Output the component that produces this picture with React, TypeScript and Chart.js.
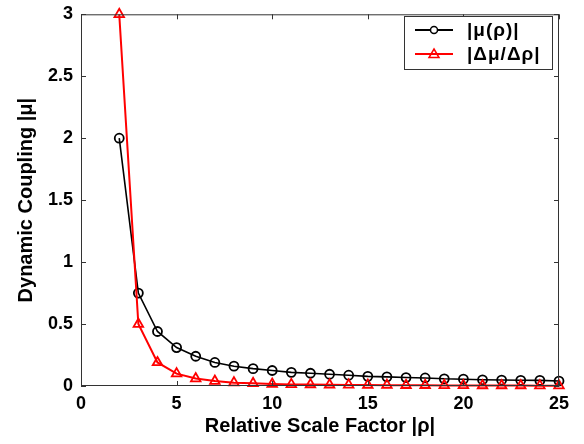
import React, { useEffect, useRef } from "react";
import { Chart, registerables } from "chart.js";

Chart.register(...registerables);

const rho = [2, 3, 4, 5, 6, 7, 8, 9, 10, 11, 12, 13, 14, 15, 16, 17, 18, 19, 20, 21, 22, 23, 24, 25];
const muAbs = [2, 0.75, 0.44, 0.31, 0.24, 0.19, 0.16, 0.14, 0.125, 0.11, 0.103, 0.095, 0.087, 0.078, 0.074, 0.068, 0.065, 0.058, 0.055, 0.05, 0.048, 0.046, 0.045, 0.04];
const dMu = [3, 0.5, 0.19, 0.1, 0.06, 0.04, 0.027, 0.022, 0.016, 0.013, 0.012, 0.01, 0.009, 0.008, 0.007, 0.006, 0.006, 0.005, 0.005, 0.004, 0.004, 0.004, 0.003, 0.003];
const xTicks = [0, 5, 10, 15, 20, 25];
const yTicks = [0, 0.5, 1, 1.5, 2, 2.5, 3];
const legendLabels = ["|\u03bc(\u03c1)|", "|\u0394\u03bc/\u0394\u03c1|"];
const xTitle = "Relative Scale Factor |\u03c1|";
const yTitle = "Dynamic Coupling |\u03bc|";

const FONT = "'Liberation Sans', Arial, sans-serif";

const boxPlugin = {
  id: "boxPlugin",
  afterDraw(chart: any) {
    const { ctx, chartArea: a, scales } = chart;
    ctx.save();
    ctx.strokeStyle = "#333";
    ctx.lineWidth = 1;
    ctx.beginPath();
    ctx.rect(a.left + 0.5, a.top + 0.5, a.right - a.left - 1, a.bottom - a.top - 1);
    ctx.stroke();
    const tl = 5;
    ctx.beginPath();
    xTicks.forEach((v) => {
      const x = Math.round(scales.x.getPixelForValue(v)) + 0.5;
      ctx.moveTo(x, a.bottom);
      ctx.lineTo(x, a.bottom - tl);
      ctx.moveTo(x, a.top);
      ctx.lineTo(x, a.top + tl);
    });
    yTicks.forEach((v) => {
      const y = Math.round(scales.y.getPixelForValue(v)) + 0.5;
      ctx.moveTo(a.left, y);
      ctx.lineTo(a.left + tl, y);
      ctx.moveTo(a.right, y);
      ctx.lineTo(a.right - tl, y);
    });
    ctx.stroke();

    // legend
    const lx = 404, ly = 16, lw = 148, lh = 53;
    ctx.fillStyle = "#fff";
    ctx.fillRect(lx, ly, lw, lh);
    ctx.strokeStyle = "#333";
    ctx.lineWidth = 1;
    ctx.strokeRect(lx + 0.5, ly + 0.5, lw, lh);
    const rows = [
      { y: 30, color: "#000", style: "circle", label: legendLabels[0] },
      { y: 54, color: "#ff0000", style: "triangle", label: legendLabels[1] },
    ];
    rows.forEach((r) => {
      ctx.strokeStyle = r.color;
      ctx.lineWidth = 2;
      ctx.beginPath();
      ctx.moveTo(415, r.y);
      ctx.lineTo(453, r.y);
      ctx.stroke();
      ctx.lineWidth = 1.5;
      ctx.beginPath();
      if (r.style === "circle") {
        ctx.fillStyle = "#fff";
        ctx.arc(434, r.y, 3.5, 0, Math.PI * 2);
        ctx.fill();
        ctx.stroke();
      } else {
        ctx.moveTo(434, r.y - 5);
        ctx.lineTo(439, r.y + 3.5);
        ctx.lineTo(429, r.y + 3.5);
        ctx.closePath();
        ctx.stroke();
      }
      ctx.fillStyle = "#000";
      ctx.font = `bold 19px ${FONT}`;
      try {
        (ctx as any).letterSpacing = "1px";
      } catch (e) {}
      ctx.textBaseline = "middle";
      ctx.textAlign = "left";
      ctx.fillText(r.label, 467, r.y + 1);
      try {
        (ctx as any).letterSpacing = "0px";
      } catch (e) {}
    });
    ctx.restore();
  },
};

export default function App() {
  const ref = useRef<HTMLCanvasElement>(null);
  useEffect(() => {
    document.body.style.margin = "0";
    const chart = new Chart(ref.current!, {
      type: "line",
      data: {
        labels: rho,
        datasets: [
          {
            label: legendLabels[0],
            data: rho.map((x, i) => ({ x, y: muAbs[i] })),
            borderColor: "#000",
            backgroundColor: "rgba(0,0,0,0)",
            borderWidth: 1.6,
            pointStyle: "circle",
            pointRadius: 4.5,
            pointBorderWidth: 1.8,
            pointBorderColor: "#000",
            pointBackgroundColor: "rgba(0,0,0,0)",
            clip: false as any,
            order: 2,
          },
          {
            label: legendLabels[1],
            data: rho.map((x, i) => ({ x, y: dMu[i] })),
            borderColor: "#ff0000",
            backgroundColor: "rgba(0,0,0,0)",
            borderWidth: 2,
            pointStyle: "triangle",
            pointRadius: 5.5,
            pointBorderWidth: 1.8,
            pointBorderColor: "#ff0000",
            pointBackgroundColor: "rgba(0,0,0,0)",
            clip: false as any,
            order: 1,
          },
        ],
      },
      options: {
        animation: false,
        responsive: false,
        devicePixelRatio: 1,
        layout: { padding: { top: 7, right: 25, left: 0, bottom: 0 } },
        plugins: { legend: { display: false }, tooltip: { enabled: false } },
        scales: {
          x: {
            type: "linear",
            min: 0,
            max: 25,
            grid: { display: false, drawTicks: false },
            border: { display: false },
            ticks: {
              stepSize: 5,
              padding: 7,
              color: "#000",
              font: { family: FONT, size: 18, weight: "bold" },
              maxRotation: 0,
            },
            title: {
              display: true,
              text: xTitle,
              color: "#000",
              font: { family: FONT, size: 20, weight: "bold" },
              padding: { top: 0, bottom: 6 },
            },
            afterFit(s: any) {
              s.height = 58;
            },
          },
          y: {
            min: 0,
            max: 3,
            grid: { display: false, drawTicks: false },
            border: { display: false },
            ticks: {
              stepSize: 0.5,
              padding: 8,
              color: "#000",
              font: { family: FONT, size: 18, weight: "bold", lineHeight: 0.7 },
              callback: (v: any) => String(v),
            },
            title: {
              display: true,
              text: yTitle,
              color: "#000",
              font: { family: FONT, size: 20, weight: "bold" },
              padding: { top: 14, bottom: 0 },
            },
            afterFit(s: any) {
              s.width = 81;
            },
          },
        },
      },
      plugins: [boxPlugin],
    } as any);
    return () => chart.destroy();
  }, []);
  return (
    <div style={{ position: "absolute", left: 0, top: 0, width: 584, height: 444, background: "#fff" }}>
      <canvas ref={ref} width={584} height={444} />
    </div>
  );
}
